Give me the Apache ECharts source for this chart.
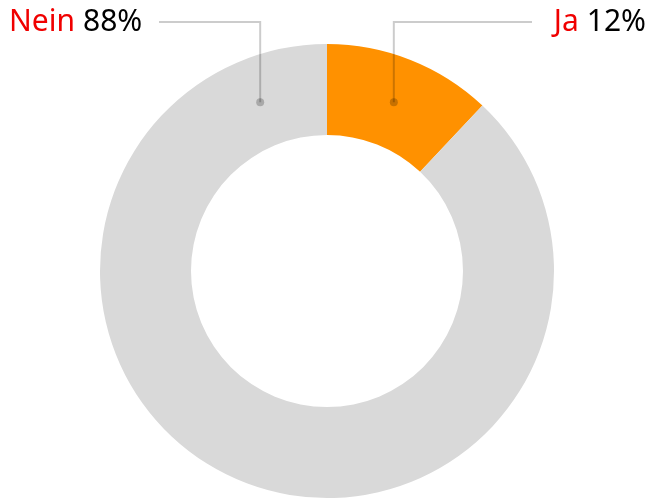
<!DOCTYPE html>
<html>
<head>
<meta charset="utf-8">
<script src="https://cdn.jsdelivr.net/npm/echarts@6/dist/echarts.min.js"></script>
<style>
  html, body { margin: 0; padding: 0; background: #fff; }
  #chart { width: 649px; height: 499px; }
</style>
</head>
<body>
<div id="chart"></div>
<script>
// Antworten
var names = ['Ja', 'Nein'];
var values = [12, 88];
var colors = ['#ff9100', '#d9d9d9'];

// Kreis
var cx = 327, cy = 271, rIn = 136, rOut = 227;
var total = values[0] + values[1];

// Punkt der Hinweislinie (Ja: Mitte des Segments, Nein: gespiegelt)
function dotPoint(i) {
  var a = values[0] / total * Math.PI;
  if (i === 1) a = -a;
  var r = (rIn + rOut) / 2;
  return [cx + r * Math.sin(a), cy - r * Math.cos(a)];
}

var chart = echarts.init(document.getElementById('chart'));

var ringData = names.map(function (n, i) {
  return { name: n, value: values[i], itemStyle: { color: colors[i] } };
});
// gleiche Werte, durchsichtig, nur für Beschriftung + Linien über dem Ring
var labelData = names.map(function (n, i) {
  return { name: n, value: values[i], itemStyle: { color: 'rgba(0,0,0,0)' } };
});

chart.setOption({
  animation: false,
  graphic: [0, 1].map(function (i) {
    var p = dotPoint(i);
    return {
      type: 'circle',
      shape: { cx: p[0], cy: p[1], r: 4 },
      style: { fill: 'rgba(0,0,0,0.22)' },
      z: 100
    };
  }),
  series: [{
    type: 'pie',
    center: [cx, cy],
    radius: [rIn, rOut],
    startAngle: 90,
    clockwise: true,
    silent: true,
    data: ringData,
    label: { show: false },
    labelLine: { show: false }
  }, {
    type: 'pie',
    z: 5,
    center: [cx, cy],
    radius: [rIn, rOut],
    startAngle: 90,
    clockwise: true,
    avoidLabelOverlap: false,
    silent: true,
    data: labelData,
    label: {
      show: true,
      position: 'outside',
      fontFamily: 'Noto Sans',
      formatter: function (p) {
        return '{n|' + p.name + '}{v|' + p.value + '%}';
      },
      rich: {
        n: { color: '#f00000', fontSize: 30, fontFamily: 'Noto Sans', padding: [0, 8, 0, 0] },
        v: { color: '#000', fontSize: 30, fontFamily: 'Noto Sans' }
      }
    },
    labelLine: {
      show: true,
      lineStyle: { color: 'rgba(0,0,0,0.2)', width: 2 }
    },
    labelLayout: function (params) {
      var i = params.dataIndex;
      var p = dotPoint(i);
      var ly = 22;
      var right = i === 0;
      return {
        x: right ? 646 : 9,
        y: ly,
        align: right ? 'right' : 'left',
        verticalAlign: 'middle',
        labelLinePoints: [p, [p[0], ly], [right ? 532 : 159, ly]]
      };
    }
  }]
});
</script>
</body>
</html>
